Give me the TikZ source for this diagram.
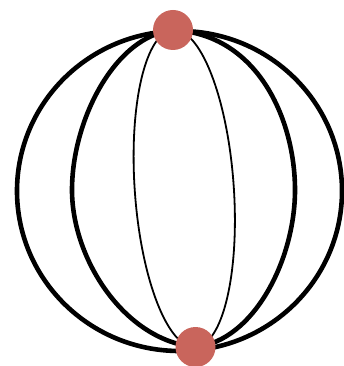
\documentclass[tikz,border=0pt]{standalone}
\usepackage{xcolor}
\usepackage{tikz}
\usetikzlibrary{backgrounds}
\definecolor{polered}{HTML}{C9655C}

\begin{document}
\begin{tikzpicture}[x=1pt, y=1pt,
    pole/.style={circle, fill=polered, inner sep=0pt, minimum size=40pt},
    meridian/.style={draw=black, line width=4.6pt},
    thinmeridian/.style={draw=black, line width=1.8pt}]
  \useasboundingbox (0,0) rectangle (344,-366);

  % poles
  \node[pole] (north) at (173,-30) {};
  \node[pole] (south) at (195.5,-347) {};

  \begin{pgfonlayer}{background}
    % outline
    \draw[meridian] (179.5,-191) ellipse[x radius=162.5, y radius=160];
    % thick meridians
    \draw[meridian] (north.center) .. controls (115,-36) and (72,-120) .. (72,-190)
                    .. controls (72,-260) and (125.5,-341) .. (south.center);
    \draw[meridian] (north.center) .. controls (258,-34) and (295,-120) .. (295,-190)
                    .. controls (295,-260) and (253.5,-341) .. (south.center);
    % thin meridians
    \draw[thinmeridian] (north.center) .. controls (145.73,-31.94) and (128.66,-104.46) .. (134.87,-192.00)
                    .. controls (141.08,-279.54) and (168.23,-348.94) .. (south.center);
    \draw[thinmeridian] (north.center) .. controls (200.27,-28.06) and (227.42,-97.46) .. (233.63,-185.00)
                    .. controls (239.84,-272.54) and (222.77,-345.06) .. (south.center);
  \end{pgfonlayer}
\end{tikzpicture}
\end{document}
